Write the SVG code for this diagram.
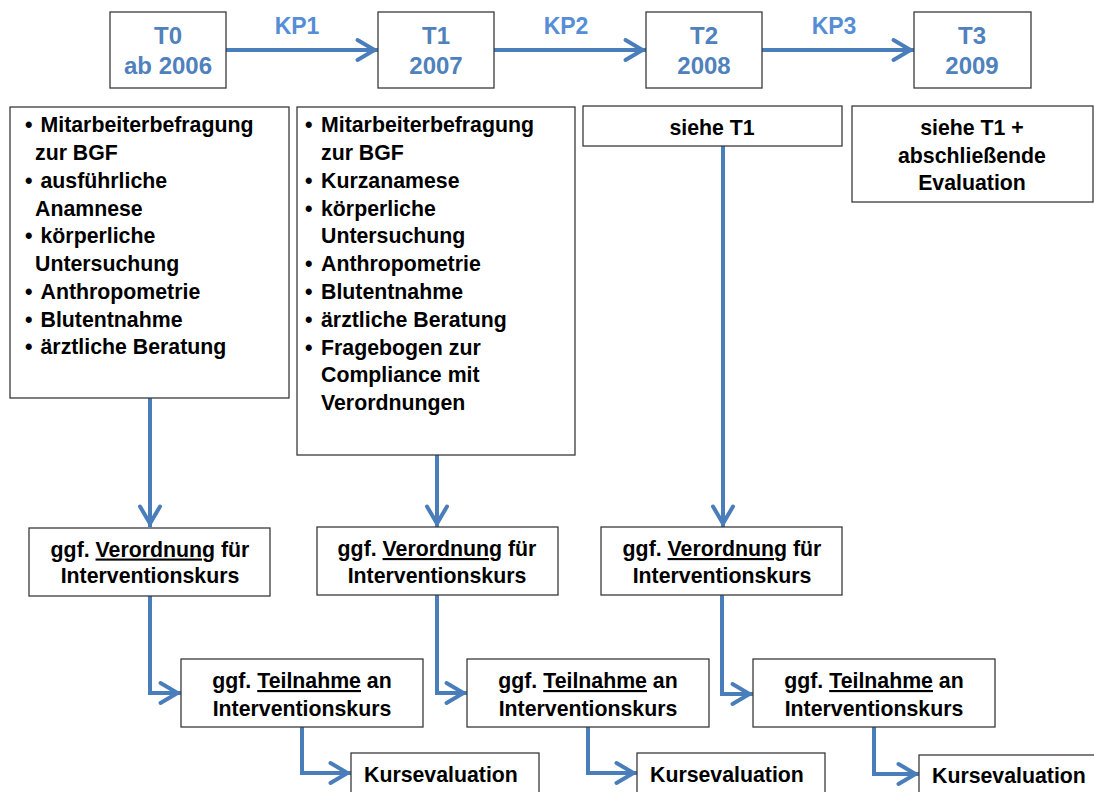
<svg xmlns="http://www.w3.org/2000/svg" width="1094" height="792" viewBox="0 0 1094 792">
<style>
  .box { fill: #ffffff; stroke: #3a3a3a; stroke-width: 1.3; }
  .tl { font-family: "Liberation Sans", Arial, sans-serif; font-weight: bold; font-size: 24px; fill: #4F81BD; text-anchor: middle; }
  .kp { font-family: "Liberation Sans", Arial, sans-serif; font-weight: bold; font-size: 23px; fill: #558ED5; text-anchor: middle; }
  .t { font-family: "Liberation Sans", Arial, sans-serif; font-weight: bold; font-size: 21.3px; fill: #000000; }
  .c { text-anchor: middle; }
  .u { text-decoration: underline; }
  .conn { fill: none; stroke: #4A7EBB; stroke-width: 4; marker-end: url(#arr); }
</style>
<defs>
  <marker id="arr" markerUnits="userSpaceOnUse" markerWidth="26" markerHeight="26" viewBox="0 0 26 26" refX="23.5" refY="12" orient="auto" overflow="visible">
    <path d="M3,2 L20,12 L3,22" fill="none" stroke="#4A7EBB" stroke-width="4" stroke-linejoin="miter" stroke-linecap="round"/>
  </marker>
</defs>
<rect width="1094" height="792" fill="#ffffff"/>

<g id="connectors">
  <path class="conn" d="M226,50 L378,50"/>
  <path class="conn" d="M494,50 L646,50"/>
  <path class="conn" d="M762,50 L914,50"/>
  <path class="conn" d="M150,398 L150,527"/>
  <path class="conn" d="M437,455 L437,527"/>
  <path class="conn" d="M723,146 L723,527"/>
  <path class="conn" d="M150,596 L150,693 L181,693"/>
  <path class="conn" d="M437,595 L437,693 L467,693"/>
  <path class="conn" d="M722,595 L722,694 L753,694"/>
  <path class="conn" d="M302,727 L302,773 L351,773"/>
  <path class="conn" d="M588,727 L588,773 L637,773"/>
  <path class="conn" d="M874,727 L874,774 L919,774"/>
</g>

<g id="kp-labels">
  <text class="kp" x="297" y="34">KP1</text>
  <text class="kp" x="566" y="34">KP2</text>
  <text class="kp" x="834" y="34">KP3</text>
</g>

<g id="T0">
  <rect class="box" x="110" y="12" width="116" height="76"/>
  <text class="tl" x="168" y="44">T0</text>
  <text class="tl" x="168" y="74">ab 2006</text>
</g>
<g id="T1">
  <rect class="box" x="378" y="12" width="116" height="76"/>
  <text class="tl" x="436" y="44">T1</text>
  <text class="tl" x="436" y="74">2007</text>
</g>
<g id="T2">
  <rect class="box" x="646" y="12" width="116" height="76"/>
  <text class="tl" x="704" y="44">T2</text>
  <text class="tl" x="704" y="74">2008</text>
</g>
<g id="T3">
  <rect class="box" x="914" y="12" width="117" height="76"/>
  <text class="tl" x="972" y="44">T3</text>
  <text class="tl" x="972" y="74">2009</text>
</g>

<g id="T0-details">
  <rect class="box" x="10" y="107" width="279" height="291"/>
  <text class="t" x="25" y="132">• <tspan x="40.5">Mitarbeiterbefragung</tspan></text>
  <text class="t" x="35" y="160">zur BGF</text>
  <text class="t" x="25" y="187.5">• <tspan x="40.5">ausführliche</tspan></text>
  <text class="t" x="35" y="215.5">Anamnese</text>
  <text class="t" x="25" y="243">• <tspan x="40.5">körperliche</tspan></text>
  <text class="t" x="35" y="271">Untersuchung</text>
  <text class="t" x="25" y="299">• <tspan x="40.5">Anthropometrie</tspan></text>
  <text class="t" x="25" y="326.5">• <tspan x="40.5">Blutentnahme</tspan></text>
  <text class="t" x="25" y="354">• <tspan x="40.5">ärztliche Beratung</tspan></text>
</g>

<g id="T1-details">
  <rect class="box" x="297" y="107" width="278" height="348"/>
  <text class="t" x="305" y="132">• <tspan x="321">Mitarbeiterbefragung</tspan></text>
  <text class="t" x="321" y="160">zur BGF</text>
  <text class="t" x="305" y="188">• <tspan x="321">Kurzanamese</tspan></text>
  <text class="t" x="305" y="215.5">• <tspan x="321">körperliche</tspan></text>
  <text class="t" x="321" y="243">Untersuchung</text>
  <text class="t" x="305" y="271">• <tspan x="321">Anthropometrie</tspan></text>
  <text class="t" x="305" y="298.5">• <tspan x="321">Blutentnahme</tspan></text>
  <text class="t" x="305" y="326.5">• <tspan x="321">ärztliche Beratung</tspan></text>
  <text class="t" x="305" y="354.5">• <tspan x="321">Fragebogen zur</tspan></text>
  <text class="t" x="321" y="382">Compliance mit</text>
  <text class="t" x="321" y="410">Verordnungen</text>
</g>

<g id="T2-details">
  <rect class="box" x="583" y="106" width="259" height="40"/>
  <text class="t c" x="712" y="135">siehe T1</text>
</g>

<g id="T3-details">
  <rect class="box" x="852" y="106" width="241" height="96"/>
  <text class="t c" x="972" y="135">siehe T1 +</text>
  <text class="t c" x="972" y="162.5">abschließende</text>
  <text class="t c" x="972" y="189.5">Evaluation</text>
</g>

<g id="verordnung-1">
  <rect class="box" x="29" y="528" width="241" height="68"/>
  <text class="t c" x="150" y="556.5">ggf. <tspan class="u">Verordnung</tspan> für</text>
  <text class="t c" x="150" y="583">Interventionskurs</text>
</g>
<g id="verordnung-2">
  <rect class="box" x="317" y="527" width="241" height="68"/>
  <text class="t c" x="437" y="556">ggf. <tspan class="u">Verordnung</tspan> für</text>
  <text class="t c" x="437" y="582.5">Interventionskurs</text>
</g>
<g id="verordnung-3">
  <rect class="box" x="601" y="527" width="241" height="68"/>
  <text class="t c" x="722" y="556">ggf. <tspan class="u">Verordnung</tspan> für</text>
  <text class="t c" x="722" y="582.5">Interventionskurs</text>
</g>

<g id="teilnahme-1">
  <rect class="box" x="181" y="659" width="242" height="68"/>
  <text class="t c" x="302" y="688">ggf. <tspan class="u">Teilnahme</tspan> an</text>
  <text class="t c" x="302" y="716">Interventionskurs</text>
</g>
<g id="teilnahme-2">
  <rect class="box" x="467" y="659" width="242" height="68"/>
  <text class="t c" x="588" y="688">ggf. <tspan class="u">Teilnahme</tspan> an</text>
  <text class="t c" x="588" y="716">Interventionskurs</text>
</g>
<g id="teilnahme-3">
  <rect class="box" x="753" y="659" width="242" height="68"/>
  <text class="t c" x="874" y="688">ggf. <tspan class="u">Teilnahme</tspan> an</text>
  <text class="t c" x="874" y="716">Interventionskurs</text>
</g>

<g id="kurs-1">
  <rect class="box" x="351" y="753" width="188" height="50"/>
  <text class="t" x="364" y="782">Kursevaluation</text>
</g>
<g id="kurs-2">
  <rect class="box" x="637" y="753" width="188" height="50"/>
  <text class="t" x="650" y="782">Kursevaluation</text>
</g>
<g id="kurs-3">
  <rect class="box" x="919" y="755" width="188" height="50"/>
  <text class="t" x="932" y="783">Kursevaluation</text>
</g>
</svg>
